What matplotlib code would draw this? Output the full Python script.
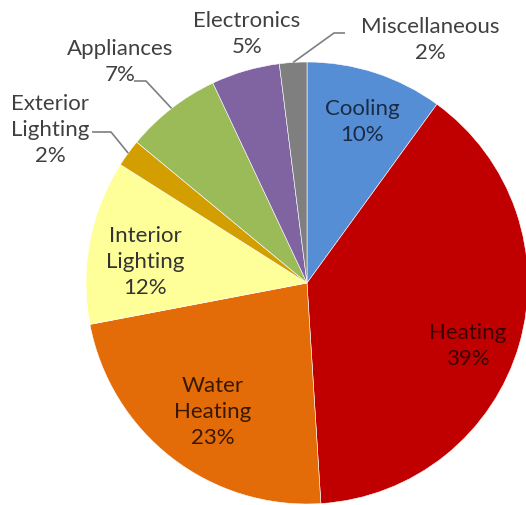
import numpy as np
import matplotlib
matplotlib.use('Agg')
import matplotlib.pyplot as plt

categories = ['Cooling', 'Heating', 'Water\nHeating', 'Interior\nLighting',
              'Exterior\nLighting', 'Appliances', 'Electronics', 'Miscellaneous']
shares = [10, 39, 23, 12, 2, 7, 5, 2]
colors = ['#558ED5', '#C00000', '#E36C09', '#FFFF99',
          '#D39E00', '#9BBB59', '#8064A2', '#7F7F7F']

plt.rcParams['font.family'] = ['Lato', 'DejaVu Sans']

W, H = 526, 505
fig = plt.figure(figsize=(W / 100, H / 100), dpi=100)
ax = fig.add_axes([0, 0, 1, 1])

cx, cy, r = 307, H - 283, 221
wedges, _ = ax.pie(shares, colors=colors, startangle=90, counterclock=False,
                   center=(cx, cy), radius=r,
                   wedgeprops=dict(edgecolor='white', linewidth=0.4))
ax.set_xlim(0, W)
ax.set_ylim(0, H)
ax.set_aspect('equal')
ax.axis('off')

# label positions (pixel coords, image y downwards) and text colours
label_pos = [(362, 122), (468, 346), (213, 412), (145, 262),
             (50, 130), (120, 62), (247, 34), (430, 40)]
text_cols = ['#1C2B45', '#3A0000', '#3A1800', '#333333',
             '#404040', '#404040', '#404040', '#404040']

for i, (cat, val) in enumerate(zip(categories, shares)):
    x, y = label_pos[i]
    ax.text(x, H - y, '%s\n%d%%' % (cat, val), ha='center', va='center',
            fontsize=16, color=text_cols[i], linespacing=1.38)

# leader lines for the small outside slices
def edge_point(idx, rr=1.0):
    w = wedges[idx]
    ang = np.deg2rad((w.theta1 + w.theta2) / 2)
    return cx + rr * r * np.cos(ang), cy + rr * r * np.sin(ang)

leaders = {4: [(92, 132), (111, 132)], 5: [(134, 81), (146, 81)],
           7: [(345, 33), (334, 33)]}
for idx, pts in leaders.items():
    ex, ey = edge_point(idx, 1.0)
    xs = [p[0] for p in pts] + [ex]
    ys = [H - p[1] for p in pts] + [ey]
    ax.plot(xs, ys, color='#7F7F7F', lw=1.2, solid_capstyle='butt')

fig.savefig('out.png', dpi=100)
